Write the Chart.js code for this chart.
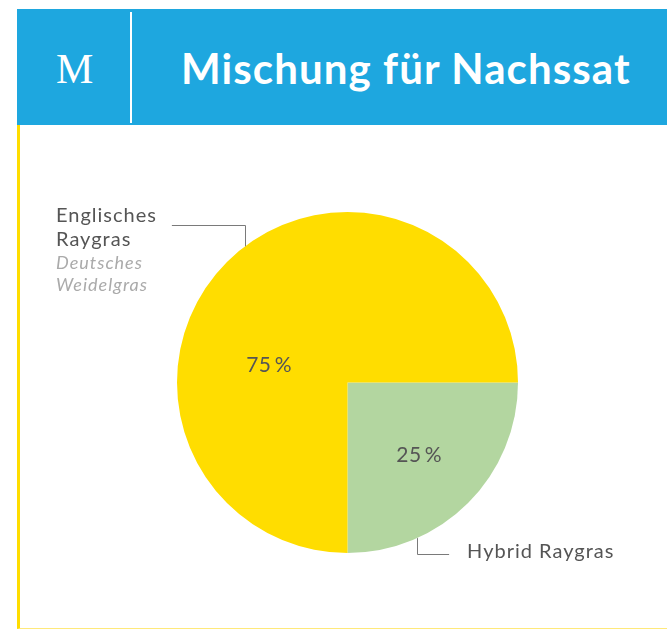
<!DOCTYPE html>
<html lang="de">
<head>
<meta charset="UTF-8">
<title>Mischung für Nachssat</title>
<script src="https://cdn.jsdelivr.net/npm/chart.js@4.4.1/dist/chart.umd.min.js"></script>
<style>
  html, body { margin: 0; padding: 0; background: #fff; }
  body { width: 667px; height: 630px; position: relative; overflow: hidden; font-family: Lato, "Open Sans", sans-serif; }
  .header {
    position: absolute; left: 17px; top: 9px; width: 650px; height: 116px;
    background: #1ea7df;
  }
  .header .logo {
    position: absolute; left: 39px; top: 2px; line-height: 116px;
    font-family: "Liberation Serif", "DejaVu Serif", serif; font-size: 42px; color: #fff;
  }
  .header .divider {
    position: absolute; left: 113px; top: 3px; width: 2px; height: 111px; background: #fff;
  }
  .header h1 {
    position: absolute; left: 164px; top: 1px; margin: 0; line-height: 116px;
    font-size: 42px; font-weight: 700; color: #fff; white-space: nowrap; letter-spacing: 1.1px;
  }
  .card {
    position: absolute; left: 17px; top: 125px; width: 650px; height: 504px;
    border-left: 3px solid #ffdd00; border-bottom: 1px solid #ffe97a; box-sizing: border-box;
  }
  .chartBox { position: absolute; left: 20px; top: 125px; width: 647px; height: 503px; }
</style>
</head>
<body>

  <div class="header">
    <div class="logo">M</div>
    <div class="divider"></div>
    <h1 id="title">Mischung für Nachssat</h1>
  </div>
  <div class="card"></div>

  <div class="chartBox">
    <canvas id="pieChart"></canvas>
  </div>

<script>
  // data
  var labels = ["Hybrid Raygras", "Englisches Raygras"];
  var subLabels = ["", "Deutsches Weidelgras"];
  var values = [25, 75];
  var colours = ["#b3d6a0", "#ffdd00"];

  // where the percent text and the leader lines sit, relative to the pie
  var pctPos = [
    { dx: 0.42, dy: 0.42 },
    { dx: -0.46, dy: -0.11 }
  ];
  var leaders = [
    { angle: 65.9, dy: 16, dx: 32 },
    { angle: -127, dy: -21, dx: -73 }
  ];

  var labelPlugin = {
    id: "pieLabels",
    afterDatasetsDraw: function(chart) {
      var ctx = chart.ctx;
      var meta = chart.getDatasetMeta(0);
      ctx.save();
      meta.data.forEach(function(arc, i) {
        var cx = arc.x, cy = arc.y, r = arc.outerRadius;

        // percent text
        ctx.fillStyle = "#555555";
        ctx.font = "21px Lato";
        ctx.letterSpacing = "0.5px";
        ctx.textAlign = "center";
        ctx.textBaseline = "alphabetic";
        ctx.fillText(values[i] + "\u2009%", cx + pctPos[i].dx * r, cy + pctPos[i].dy * r + 8);

        // leader line
        var a = leaders[i].angle * Math.PI / 180;
        var px = cx + Math.cos(a) * r, py = cy + Math.sin(a) * r;
        var ey = py + leaders[i].dy;
        var ex = px + leaders[i].dx;
        ctx.strokeStyle = "#7a7a7a";
        ctx.lineWidth = 1;
        ctx.beginPath();
        ctx.moveTo(Math.round(px) + 0.5, py);
        ctx.lineTo(Math.round(px) + 0.5, Math.round(ey) + 0.5);
        ctx.lineTo(ex, Math.round(ey) + 0.5);
        ctx.stroke();

        // category text
        ctx.textAlign = "left";
        ctx.letterSpacing = "1px";
        if (i === 0) {
          ctx.fillStyle = "#555555";
          ctx.font = "20px Lato";
          ctx.fillText(labels[i], ex + 18, ey + 4);
        } else {
          var words = labels[i].split(" ");
          var subWords = subLabels[i].split(" ");
          var tx = 36;
          var by = ey - 3;
          ctx.fillStyle = "#555555";
          ctx.font = "20px Lato";
          ctx.fillText(words[0], tx, by);
          ctx.fillText(words[1], tx, by + 24);
          ctx.fillStyle = "#aaaaaa";
          ctx.font = "italic 18px Lato";
          ctx.fillText(subWords[0], tx, by + 47);
          ctx.fillText(subWords[1], tx, by + 69);
        }
      });
      ctx.restore();
    }
  };

  var ctxPie = document.getElementById("pieChart").getContext("2d");

  var pieChart = new Chart(ctxPie, {
    type: "pie",
    data: {
      labels: labels,
      datasets: [
        {
          data: values,
          backgroundColor: colours,
          borderWidth: 0
        }
      ]
    },
    options: {
      responsive: true,
      maintainAspectRatio: false,
      animation: false,
      rotation: 90,
      layout: { padding: { left: 157, right: 149, top: 87, bottom: 75 } },
      plugins: {
        legend: { display: false },
        tooltip: { enabled: false }
      }
    },
    plugins: [labelPlugin]
  });
</script>
</body>
</html>
